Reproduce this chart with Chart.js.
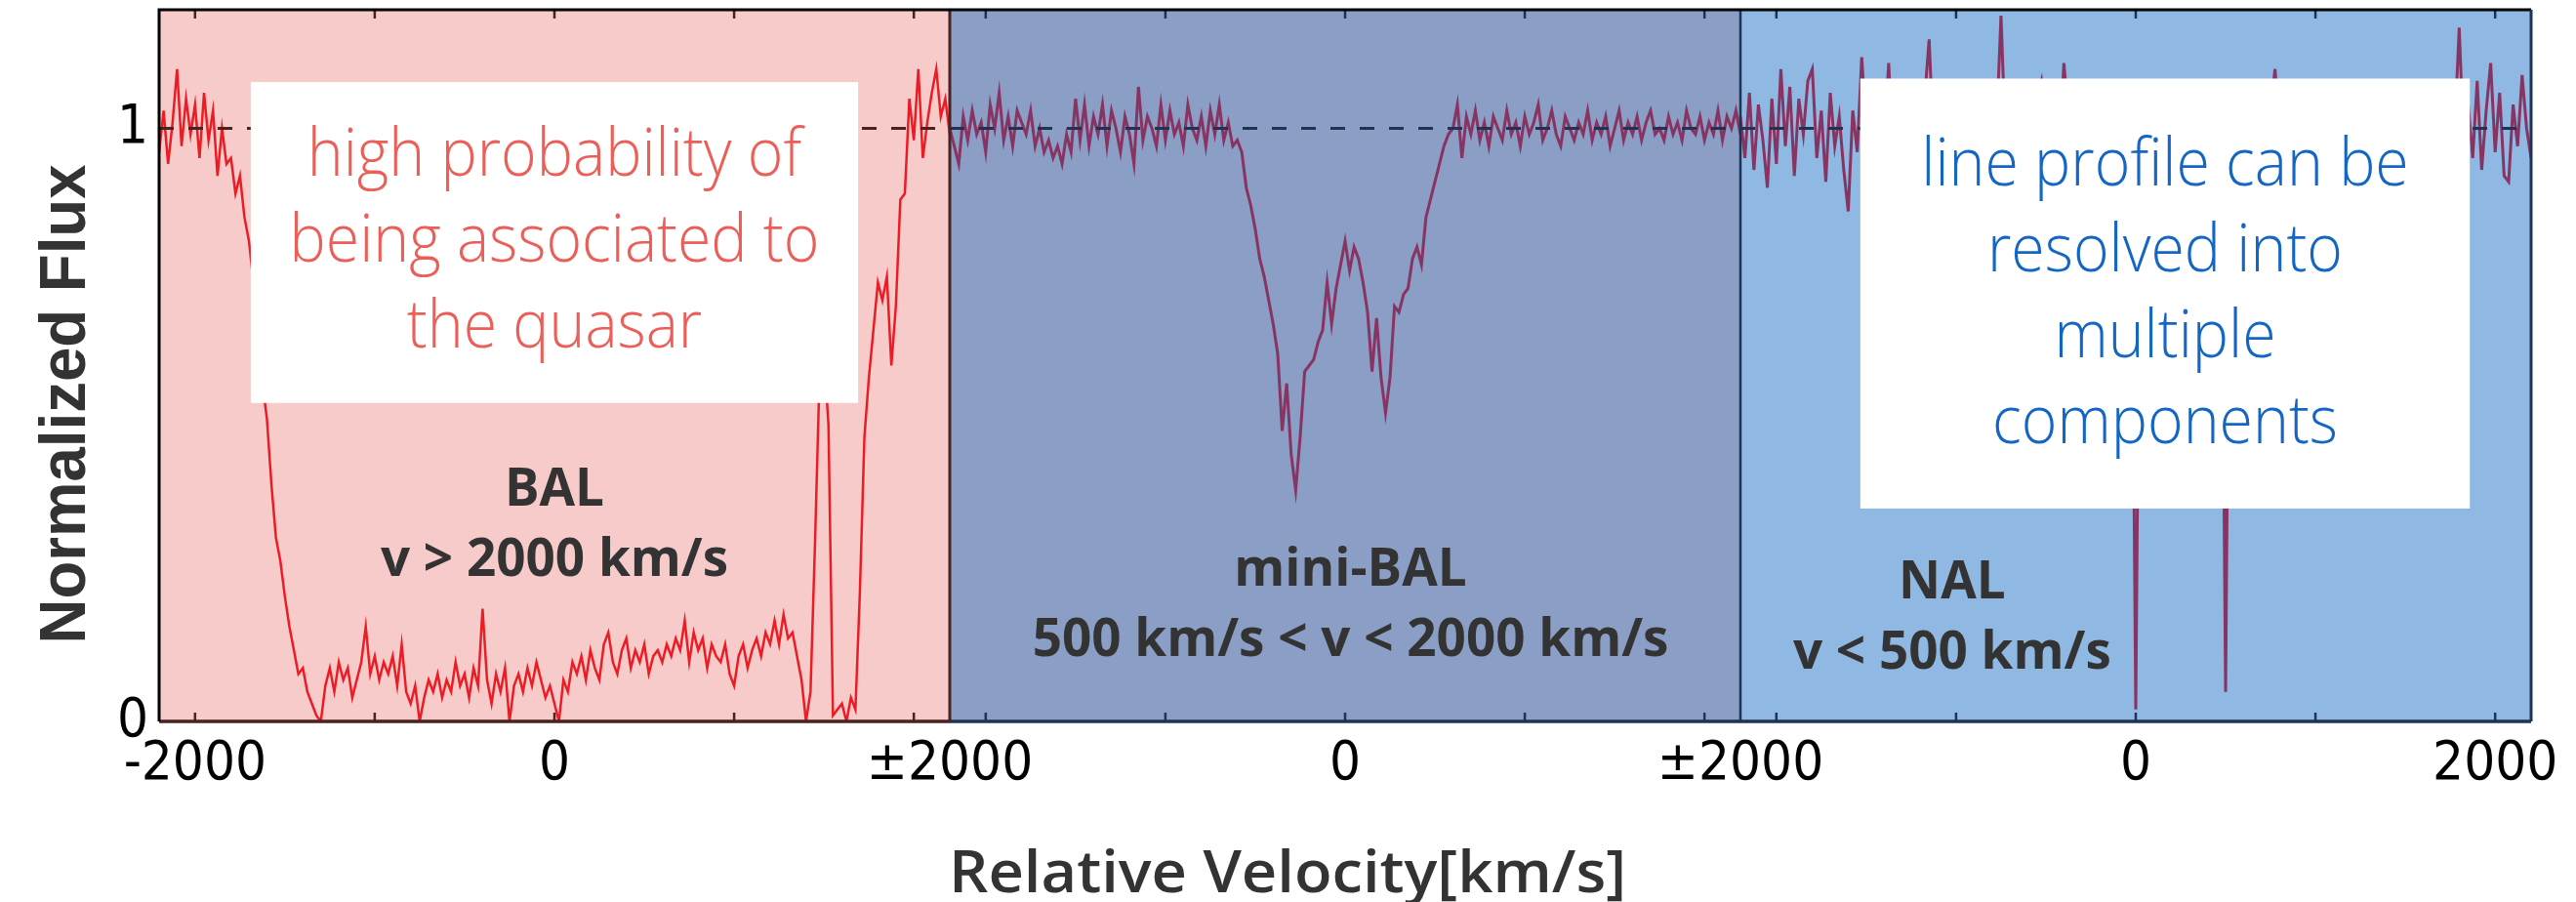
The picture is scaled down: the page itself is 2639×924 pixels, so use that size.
<!DOCTYPE html>
<html>
<head>
<meta charset="utf-8">
<title>BAL / mini-BAL / NAL</title>
<script src="https://cdn.jsdelivr.net/npm/chart.js@4.4.1/dist/chart.umd.min.js"></script>
<style>
  html, body { margin: 0; padding: 0; background: #fff; }
</style>
</head>
<body>
<canvas id="spectrumChart" width="2639" height="924"></canvas>
<script>
// velocity grid shared by the three panels (km/s)
const velocityStart = -2200;
const velocityStep = 25;
const panelSpan = 4400;

// normalized flux, one value every 25 km/s from -2200 to +2200
const fluxBAL = [
    0.96, 1.03, 0.94, 1.01, 1.10, 0.97, 1.05, 0.99,
    1.04, 0.95, 1.06, 0.98, 1.03, 0.92, 1.00, 0.94,
    0.95, 0.89, 0.92, 0.85, 0.81, 0.74, 0.66, 0.57,
    0.51, 0.40, 0.31, 0.27, 0.21, 0.16, 0.12, 0.08,
    0.09, 0.05, 0.03, 0.01, 0.00, 0.06, 0.09, 0.05,
    0.10, 0.07, 0.09, 0.04, 0.07, 0.10, 0.16, 0.08,
    0.11, 0.07, 0.10, 0.08, 0.11, 0.06, 0.13, 0.05,
    0.03, 0.06, 0.00, 0.04, 0.07, 0.05, 0.08, 0.04,
    0.07, 0.05, 0.10, 0.06, 0.08, 0.04, 0.09, 0.06,
    0.19, 0.07, 0.03, 0.08, 0.05, 0.09, 0.00, 0.06,
    0.08, 0.05, 0.09, 0.06, 0.10, 0.07, 0.04, 0.06,
    0.03, 0.00, 0.07, 0.05, 0.10, 0.08, 0.11, 0.07,
    0.12, 0.09, 0.07, 0.13, 0.15, 0.10, 0.08, 0.12,
    0.14, 0.09, 0.12, 0.10, 0.13, 0.08, 0.11, 0.12,
    0.10, 0.13, 0.11, 0.14, 0.12, 0.17, 0.10, 0.15,
    0.12, 0.14, 0.09, 0.13, 0.11, 0.10, 0.13, 0.08,
    0.06, 0.11, 0.13, 0.09, 0.12, 0.14, 0.11, 0.15,
    0.13, 0.17, 0.13, 0.18, 0.14, 0.15, 0.11, 0.07,
    0.00, 0.05, 0.30, 0.58, 0.62, 0.50, 0.01, 0.02,
    0.03, 0.00, 0.04, 0.02, 0.22, 0.48, 0.58, 0.66,
    0.74, 0.71, 0.75, 0.60, 0.70, 0.88, 0.89, 1.05,
    0.98, 1.10, 0.95, 1.01, 1.06, 1.10, 1.02, 1.05,
    0.99
];
const fluxMiniBAL = [
    1.00, 0.97, 0.94, 1.02, 0.98, 1.03, 0.99, 1.01,
    0.96, 1.04, 1.00, 1.06, 0.98, 1.02, 0.97, 1.03,
    1.01, 0.99, 1.03, 0.97, 1.00, 0.96, 0.98, 0.95,
    0.97, 0.94, 0.99, 0.96, 1.05, 0.98, 1.04, 0.97,
    1.02, 0.99, 1.04, 0.97, 1.03, 1.00, 0.96, 1.02,
    0.99, 0.94, 1.07, 0.98, 1.02, 1.00, 0.97, 1.04,
    0.98, 1.03, 0.99, 1.01, 0.97, 1.04, 1.00, 0.98,
    1.02, 0.97, 1.03, 0.99, 1.04, 0.98, 1.01, 0.97,
    0.98, 0.96, 0.90, 0.87, 0.83, 0.78, 0.75, 0.71,
    0.67, 0.62, 0.49, 0.57, 0.45, 0.39, 0.48, 0.59,
    0.60, 0.61, 0.64, 0.66, 0.74, 0.67, 0.73, 0.77,
    0.81, 0.76, 0.80, 0.78, 0.74, 0.69, 0.59, 0.68,
    0.58, 0.52, 0.58, 0.70, 0.69, 0.72, 0.73, 0.78,
    0.80, 0.77, 0.85, 0.88, 0.91, 0.94, 0.97, 0.99,
    1.00, 1.04, 0.95, 1.02, 0.99, 1.03, 0.98, 1.01,
    0.97, 1.02, 1.00, 0.98, 1.03, 0.99, 1.01, 0.97,
    1.02, 0.99, 1.01, 1.04, 0.98, 1.00, 1.03, 0.99,
    0.97, 1.02, 1.00, 0.98, 1.01, 0.99, 1.03, 0.98,
    1.01, 0.99, 1.02, 0.97, 1.00, 1.03, 0.98, 1.01,
    0.99, 1.02, 0.98, 1.01, 1.03, 0.99, 1.00, 0.98,
    1.02, 0.99, 1.01, 0.98, 1.03, 1.00, 0.99, 1.02,
    0.98, 1.01, 0.99, 1.03, 0.98, 1.02, 1.00, 1.03,
    0.99
];
const fluxNAL = [
    1.02, 0.95, 1.06, 0.93, 1.04, 0.98, 0.90, 1.05,
    0.94, 1.10, 0.97, 1.07, 0.92, 1.05, 0.99, 1.08,
    1.10, 0.95, 1.03, 0.91, 1.06, 0.97, 1.02, 0.93,
    0.86, 1.03, 0.96, 1.12, 1.00, 1.06, 0.97, 1.04,
    0.98, 1.11, 0.95, 1.03, 0.99, 1.06, 0.96, 1.02,
    1.00, 1.05, 1.15, 0.97, 1.03, 0.98, 1.06, 0.99,
    1.02, 0.96, 1.04, 0.99, 1.07, 0.97, 1.03, 0.98,
    1.05, 1.00, 1.19, 0.98, 1.04, 0.97, 1.02, 0.99,
    1.03, 0.97, 1.05, 1.08, 1.00, 0.98, 1.04, 0.96,
    1.11, 1.02, 0.97, 1.05, 0.99, 1.03, 0.97, 1.02,
    0.98, 1.04, 1.00, 0.97, 1.03, 0.99, 1.01, 0.97,
    0.02, 0.98, 1.03, 0.99, 1.02, 0.97, 1.04, 1.00,
    0.98, 1.03, 0.99, 1.05, 0.97, 1.02, 1.00, 0.98,
    1.04, 0.99, 1.02, 0.97, 0.05, 1.01, 0.98, 1.03,
    1.00, 0.97, 1.04, 0.99, 1.02, 0.98, 1.03, 1.10,
    0.99, 1.02, 0.97, 1.04, 1.00, 0.98, 1.03, 0.99,
    1.01, 0.97, 1.04, 0.99, 1.06, 0.98, 1.02, 1.00,
    0.97, 1.03, 1.00, 0.98, 1.04, 0.99, 1.02, 0.97,
    1.05, 0.99, 1.01, 0.97, 1.03, 1.00, 0.98, 1.04,
    0.99, 1.02, 0.96, 1.05, 1.00, 0.98, 1.03, 1.00,
    1.17, 0.97, 1.04, 0.95, 1.08, 0.93, 1.03, 1.11,
    0.96, 1.06, 0.92, 0.91, 1.04, 0.97, 1.09, 1.00,
    0.95
];

const panelNames = ['BAL', 'mini-BAL', 'NAL'];
const panelRanges = ['v > 2000 km/s', '500 km/s < v < 2000 km/s', 'v < 500 km/s'];
const tickVelocities = [-2000, -1000, 0, 1000, 2000];
const xTickValues = [200, 2200, 4400, 6600, 8800, 11000, 13000];
const xTickLabels = ['-2000', '0', '\u00b12000', '0', '\u00b12000', '0', '2000'];
const yTickValues = [0, 1];
const noteBAL = ['high probability of', 'being associated to', 'the quasar'];
const noteNAL = ['line profile can be', 'resolved into', 'multiple', 'components'];

const panelStyles = [
    { fill: '#f8cbcb', line: '#ec1c24', edge: '#4a2222', width: 2.5 },
    { fill: '#8a9ec6', line: '#883462', edge: '#1f3353', width: 3 },
    { fill: '#8fb8e2', line: '#883462', edge: '#1f3353', width: 3 }
];

// where the region labels sit (panel coordinate, flux of the first baseline)
const labelAnchors = [
    { x: 2200, y: 0.364 },
    { x: 6630, y: 0.229 },
    { x: 9978, y: 0.208 }
];

// white note boxes
const notes = [
    { lines: noteBAL, x0: 510, x1: 3890, y0: 0.537, y1: 1.078, color: '#eb5f58', first: 96 },
    { lines: noteNAL, x0: 9467, x1: 12859, y0: 0.359, y1: 1.084, color: '#1466c4', first: 110 }
];

function toPoints(flux, panel) {
    const offset = panel * panelSpan + panelSpan / 2;
    return flux.map((f, i) => ({ x: offset + velocityStart + i * velocityStep, y: f }));
}

// centred text with a horizontal scale factor
function fillScaled(ctx, text, x, y, sx) {
    ctx.save();
    ctx.translate(x, y);
    ctx.scale(sx, 1);
    ctx.textAlign = 'center';
    ctx.fillText(text, 0, 0);
    ctx.restore();
}

// centred text squeezed or stretched to a given width
function fillFitted(ctx, text, x, y, width) {
    fillScaled(ctx, text, x, y, width / ctx.measureText(text).width);
}

const panelPlugin = {
    id: 'panels',
    beforeDatasetsDraw(chart) {
        const { ctx, chartArea: a, scales: { x } } = chart;
        ctx.save();
        panelStyles.forEach((s, k) => {
            const l = x.getPixelForValue(k * panelSpan);
            const r = x.getPixelForValue((k + 1) * panelSpan);
            ctx.fillStyle = s.fill;
            ctx.fillRect(l, a.top, r - l, a.bottom - a.top);
        });
        ctx.restore();
    },
    afterDatasetsDraw(chart) {
        const { ctx, chartArea: a, scales: { x, y } } = chart;
        ctx.save();
        // continuum level and inward tick marks
        panelStyles.forEach((s, k) => {
            const l = x.getPixelForValue(k * panelSpan);
            const r = x.getPixelForValue((k + 1) * panelSpan);
            const yc = y.getPixelForValue(1);
            ctx.strokeStyle = s.edge;
            ctx.lineWidth = 3;
            ctx.setLineDash([15, 15]);
            ctx.beginPath();
            ctx.moveTo(l, yc);
            ctx.lineTo(r, yc);
            ctx.stroke();
            ctx.setLineDash([]);
            ctx.lineWidth = 2.5;
            tickVelocities.forEach(v => {
                const px = x.getPixelForValue(k * panelSpan + panelSpan / 2 + v);
                ctx.beginPath();
                ctx.moveTo(px, a.top);
                ctx.lineTo(px, a.top + 9);
                ctx.moveTo(px, a.bottom);
                ctx.lineTo(px, a.bottom - 9);
                ctx.stroke();
            });
            // bottom axis segment
            ctx.lineWidth = 3.5;
            ctx.beginPath();
            ctx.moveTo(l, a.bottom);
            ctx.lineTo(r, a.bottom);
            ctx.stroke();
        });
        // panel boundaries
        [[panelSpan, '#4a2222', 3], [2 * panelSpan, '#1f3353', 2.5]].forEach(([u, c, w]) => {
            const px = x.getPixelForValue(u);
            ctx.strokeStyle = c;
            ctx.lineWidth = w;
            ctx.beginPath();
            ctx.moveTo(px, a.top);
            ctx.lineTo(px, a.bottom);
            ctx.stroke();
        });
        // frame
        ctx.lineWidth = 3;
        ctx.strokeStyle = '#000';
        ctx.beginPath();
        ctx.moveTo(a.left, a.bottom);
        ctx.lineTo(a.left, a.top);
        ctx.lineTo(a.right, a.top);
        ctx.stroke();
        ctx.strokeStyle = '#1f3353';
        ctx.beginPath();
        ctx.moveTo(a.right, a.top);
        ctx.lineTo(a.right, a.bottom);
        ctx.stroke();

        // note boxes
        notes.forEach(n => {
            const l = x.getPixelForValue(n.x0), r = x.getPixelForValue(n.x1);
            const t = y.getPixelForValue(n.y1), b = y.getPixelForValue(n.y0);
            ctx.fillStyle = '#fff';
            ctx.fillRect(l, t, r - l, b - t);
            ctx.fillStyle = n.color;
            ctx.font = '300 68px "Open Sans", sans-serif';
            ctx.textBaseline = 'alphabetic';
            n.lines.forEach((line, i) => {
                fillScaled(ctx, line, (l + r) / 2, t + n.first + i * 88, 0.92);
            });
        });

        // region labels
        ctx.fillStyle = '#333';
        ctx.font = 'bold 53px "Open Sans", sans-serif';
        ctx.textAlign = 'center';
        labelAnchors.forEach((p, k) => {
            const px = x.getPixelForValue(p.x);
            const py = y.getPixelForValue(p.y);
            ctx.fillText(panelNames[k], px, py);
            ctx.fillText(panelRanges[k], px, py + 72);
        });
        ctx.restore();
    },
    afterDraw(chart) {
        const { ctx } = chart;
        ctx.save();
        ctx.fillStyle = '#333';
        ctx.textBaseline = 'alphabetic';
        ctx.font = '600 59px "Open Sans", sans-serif';
        fillFitted(ctx, 'Relative Velocity[km/s]', 1319, 914, 694);
        ctx.translate(87, 414);
        ctx.rotate(-Math.PI / 2);
        ctx.font = 'bold 66px "Liberation Sans", Arial, sans-serif';
        fillFitted(ctx, 'Normalized Flux', 0, 0, 491);
        ctx.restore();
    }
};

const tickFont = { family: '"Liberation Sans Narrow", "DejaVu Sans Condensed", sans-serif', size: 56, lineHeight: 1 };

const ctx = document.getElementById('spectrumChart').getContext('2d');
const spectrumChart = new Chart(ctx, {
    type: 'line',
    data: {
        datasets: [fluxBAL, fluxMiniBAL, fluxNAL].map((flux, k) => ({
            label: panelNames[k],
            data: toPoints(flux, k),
            borderColor: panelStyles[k].line,
            borderWidth: panelStyles[k].width,
            pointRadius: 0,
            tension: 0,
            fill: false
        }))
    },
    options: {
        responsive: false,
        animation: false,
        events: [],
        layout: { padding: { top: 10, right: 46, left: 0, bottom: 0 } },
        plugins: {
            legend: { display: false },
            title: { display: false },
            tooltip: { enabled: false }
        },
        scales: {
            x: {
                type: 'linear',
                min: 0,
                max: 3 * panelSpan,
                grid: { display: false, drawTicks: false },
                border: { display: false },
                afterBuildTicks: s => { s.ticks = xTickValues.map(v => ({ value: v })); },
                afterFit: s => { s.height = 185; s.paddingLeft = 0; s.paddingRight = 0; },
                ticks: {
                    autoSkip: false,
                    maxRotation: 0,
                    padding: 16,
                    color: '#000',
                    font: tickFont,
                    callback: (value, index) => xTickLabels[index]
                }
            },
            y: {
                type: 'linear',
                min: 0,
                max: 1.2,
                grid: { display: false, drawTicks: false },
                border: { display: false },
                afterBuildTicks: s => { s.ticks = yTickValues.map(v => ({ value: v })); },
                afterFit: s => { s.width = 163; s.paddingTop = 0; s.paddingBottom = 0; },
                ticks: {
                    padding: 11,
                    color: '#000',
                    font: tickFont,
                    callback: value => String(value)
                }
            }
        }
    },
    plugins: [panelPlugin]
});
</script>
</body>
</html>
